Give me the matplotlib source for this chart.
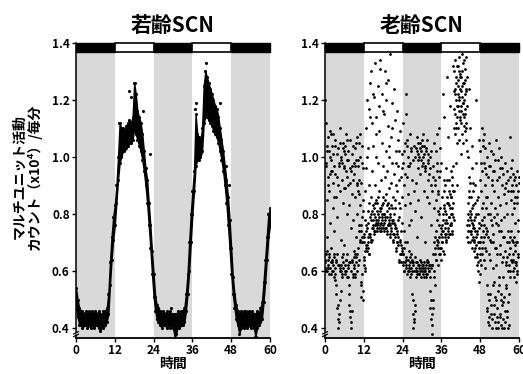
import numpy as np
import matplotlib.pyplot as plt
from matplotlib.patches import Rectangle

plt.rcParams['font.family'] = ['Noto Sans CJK JP', 'DejaVu Sans']
plt.rcParams['font.weight'] = 'bold'

# light/dark schedule (hours)
dark_spans = [(0, 12), (24, 36), (48, 60)]
light_spans = [(12, 24), (36, 48)]
hour_ticks = [0, 12, 24, 36, 48, 60]
y_ticks = [0.4, 0.6, 0.8, 1.0, 1.2, 1.4]

# young SCN: band edges sampled every 0.5 h from 0 to 60
young_lo = [0.47, 0.44, 0.41, 0.41, 0.40, 0.41, 0.41, 0.40, 0.41, 0.40,
            0.41, 0.40, 0.41, 0.41, 0.40, 0.39, 0.41, 0.40, 0.41, 0.42,
            0.45, 0.55, 0.64, 0.71, 0.76, 0.84, 0.92, 0.98, 1.00, 1.02,
            1.02, 1.03, 1.04, 1.05, 1.05, 1.06, 1.10, 1.08, 1.06, 1.04,
            1.02, 0.99, 0.95, 0.90, 0.84, 0.76, 0.68, 0.59, 0.51, 0.46,
            0.43, 0.42, 0.41, 0.40, 0.41, 0.41, 0.40, 0.41, 0.40, 0.41,
            0.40, 0.37, 0.38, 0.41, 0.40, 0.41, 0.41, 0.42, 0.46, 0.52,
            0.60, 0.70, 0.80, 0.88, 0.97, 0.99, 0.99, 1.00, 1.02, 1.12,
            1.14, 1.14, 1.13, 1.12, 1.11, 1.09, 1.08, 1.07, 1.05, 1.02,
            0.99, 0.95, 0.90, 0.84, 0.76, 0.68, 0.59, 0.52, 0.47, 0.43,
            0.41, 0.38, 0.40, 0.41, 0.40, 0.41, 0.40, 0.41, 0.40, 0.41,
            0.40, 0.37, 0.40, 0.41, 0.42, 0.43, 0.49, 0.56, 0.64, 0.72,
            0.76]
young_hi = [0.54, 0.50, 0.47, 0.46, 0.46, 0.45, 0.46, 0.45, 0.46, 0.45,
            0.46, 0.45, 0.46, 0.45, 0.46, 0.45, 0.45, 0.46, 0.46, 0.47,
            0.52, 0.63, 0.72, 0.79, 0.83, 0.90, 1.00, 1.12, 1.10, 1.10,
            1.09, 1.11, 1.12, 1.13, 1.12, 1.14, 1.26, 1.22, 1.16, 1.14,
            1.12, 1.08, 1.02, 0.96, 0.92, 0.84, 0.76, 0.67, 0.59, 0.51,
            0.48, 0.47, 0.46, 0.45, 0.46, 0.45, 0.46, 0.45, 0.46, 0.45,
            0.45, 0.45, 0.45, 0.46, 0.45, 0.46, 0.46, 0.47, 0.52, 0.59,
            0.70, 0.80, 0.88, 0.95, 1.15, 1.08, 1.07, 1.06, 1.10, 1.25,
            1.30, 1.28, 1.26, 1.24, 1.22, 1.20, 1.18, 1.17, 1.14, 1.10,
            1.06, 1.02, 0.97, 0.92, 0.86, 0.78, 0.68, 0.58, 0.52, 0.48,
            0.46, 0.45, 0.46, 0.45, 0.46, 0.46, 0.45, 0.46, 0.45, 0.46,
            0.45, 0.45, 0.46, 0.45, 0.47, 0.49, 0.56, 0.64, 0.72, 0.80,
            0.82]
young_extra_t = [13.4, 16.3, 17.0, 18.3, 20.8, 22.9, 29.4, 30.6, 36.9, 37.2,
                 40.3, 44.6, 46.5, 47.2, 55.8]
young_extra_y = [1.12, 1.23, 1.21, 1.26, 1.16, 1.01, 0.47, 0.38, 1.17, 1.19,
                 1.33, 1.19, 0.97, 0.90, 0.37]

# old SCN channel A: 12 readings per hour (every 5 min)
old_00_12 = [1.20, 0.63, 0.98, 0.61, 1.12, 0.66, 0.85, 0.60, 1.02, 0.72, 0.64, 0.93,
             0.62, 1.07, 0.59, 0.88, 0.65, 1.00, 0.61, 0.77, 1.09, 0.63, 0.95, 0.68,
             0.99, 0.60, 1.04, 0.64, 0.82, 0.62, 1.08, 0.91, 0.66, 0.97, 0.58, 0.74,
             0.61, 0.94, 0.57, 1.06, 0.63, 0.86, 0.52, 1.01, 0.66, 0.79, 0.47, 0.90,
             0.43, 1.03, 0.40, 0.62, 0.97, 0.45, 0.88, 0.60, 1.10, 0.50, 0.71, 0.99,
             0.60, 1.00, 0.65, 0.92, 0.58, 1.05, 0.63, 0.84, 0.61, 0.96, 0.69, 1.02,
             0.97, 0.62, 1.04, 0.59, 0.89, 0.64, 1.08, 0.60, 0.80, 0.99, 0.66, 0.93,
             0.62, 0.90, 0.58, 1.02, 0.55, 0.83, 0.48, 0.96, 0.63, 1.06, 0.44, 0.75,
             0.40, 0.95, 0.60, 0.87, 0.46, 1.01, 0.64, 0.78, 0.58, 0.92, 0.67, 0.98,
             0.61, 0.94, 0.66, 1.03, 0.59, 0.86, 0.63, 0.99, 0.72, 0.90, 0.60, 1.07,
             0.80, 0.62, 0.97, 0.68, 0.88, 0.76, 1.05, 0.64, 0.92, 0.71, 0.83, 1.00,
             0.56, 0.74, 0.91, 0.51, 0.79, 1.04, 0.59, 0.70, 0.85, 0.53, 0.96, 0.73]
old_12_24 = [0.62, 0.70, 0.65, 0.78, 0.61, 0.88, 0.67, 1.10, 0.74, 0.96, 0.69, 1.20,
             0.67, 0.75, 0.70, 1.03, 0.81, 0.68, 1.17, 0.73, 0.90, 0.66, 1.26, 0.79,
             0.72, 0.80, 0.70, 0.86, 1.30, 0.75, 0.95, 0.71, 1.12, 0.78, 1.04, 0.83,
             0.75, 0.82, 0.73, 1.21, 0.79, 0.90, 0.74, 1.33, 0.85, 1.00, 0.77, 1.14,
             0.76, 0.84, 0.74, 0.98, 0.80, 1.25, 0.78, 0.88, 1.09, 0.75, 1.18, 0.82,
             0.74, 0.81, 1.34, 0.77, 0.92, 0.75, 1.05, 0.83, 1.22, 0.79, 0.97, 0.86,
             0.76, 0.84, 0.74, 1.15, 0.80, 1.30, 0.78, 0.93, 0.75, 1.02, 0.87, 1.20,
             0.75, 0.83, 0.73, 0.95, 0.79, 1.11, 0.76, 1.27, 0.82, 0.89, 1.04, 0.77,
             0.73, 0.80, 1.36, 0.76, 0.91, 0.74, 1.07, 0.82, 1.19, 0.78, 0.98, 0.86,
             0.71, 0.78, 0.73, 1.24, 0.80, 0.94, 0.72, 1.13, 0.85, 0.76, 1.02, 0.90,
             0.68, 0.75, 0.70, 0.88, 1.16, 0.73, 0.97, 0.69, 1.06, 0.79, 0.84, 0.92,
             0.64, 0.71, 0.66, 0.82, 1.09, 0.69, 0.93, 0.63, 0.77, 1.01, 0.67, 0.86]
old_24_36 = [0.62, 0.98, 0.66, 1.12, 0.74, 0.60, 0.90, 0.68, 1.05, 0.63, 0.83, 1.15,
             0.65, 1.22, 0.61, 0.93, 0.70, 1.06, 0.59, 0.87, 0.64, 1.00, 0.76, 0.62,
             0.60, 0.97, 0.63, 1.08, 0.58, 0.84, 0.66, 1.02, 0.61, 0.78, 0.92, 0.64,
             0.52, 0.62, 0.45, 0.99, 0.40, 0.60, 0.88, 0.43, 1.04, 0.48, 0.65, 0.81,
             0.61, 1.03, 0.58, 0.91, 0.63, 1.07, 0.60, 0.72, 0.99, 0.62, 0.85, 1.01,
             0.59, 1.00, 0.62, 1.05, 0.60, 0.94, 0.64, 1.02, 0.58, 0.79, 0.61, 0.97,
             0.62, 1.04, 0.59, 0.98, 0.61, 1.08, 0.63, 0.88, 0.60, 1.01, 0.70, 0.95,
             0.60, 0.96, 0.58, 1.02, 0.62, 0.86, 0.59, 1.06, 0.64, 0.92, 0.61, 0.99,
             0.63, 0.94, 0.60, 0.84, 0.53, 1.00, 0.47, 0.62, 0.90, 0.43, 0.76, 0.61,
             0.38, 0.88, 0.45, 0.62, 0.97, 0.50, 0.66, 0.82, 0.60, 1.05, 0.70, 0.92,
             0.66, 0.90, 0.72, 1.02, 0.64, 0.85, 0.78, 1.08, 0.69, 0.95, 0.62, 0.81,
             0.70, 0.87, 0.66, 1.10, 0.76, 0.93, 0.68, 0.82, 1.03, 0.73, 0.98, 0.64]
old_36_48 = [0.68, 0.76, 0.72, 0.86, 0.70, 0.80, 1.22, 0.74, 0.92, 0.66, 1.14, 0.83,
             0.72, 0.81, 0.75, 0.90, 0.70, 0.78, 0.96, 0.73, 1.28, 0.84, 0.77, 1.07,
             0.74, 0.84, 0.72, 0.92, 0.79, 0.88, 0.73, 1.18, 0.82, 0.76, 0.95, 0.86,
             0.76, 0.86, 0.90, 0.80, 0.93, 0.74, 0.84, 1.32, 0.97, 0.78, 1.10, 0.88,
             1.30, 1.15, 1.24, 1.08, 1.34, 1.20, 0.98, 1.12, 1.26, 1.05, 1.18, 0.90,
             1.22, 1.32, 1.10, 1.27, 1.16, 1.35, 1.06, 1.20, 1.29, 1.13, 1.24, 1.01,
             1.18, 1.28, 1.12, 1.36, 1.21, 1.08, 1.25, 1.15, 1.33, 1.05, 1.19, 1.11,
             1.26, 1.14, 1.31, 1.09, 1.22, 1.17, 1.35, 1.06, 1.24, 1.12, 1.28, 1.02,
             0.72, 0.84, 0.78, 1.00, 0.70, 0.88, 1.24, 0.76, 0.93, 0.74, 1.10, 0.81,
             0.70, 0.80, 0.74, 0.86, 0.68, 0.96, 0.77, 1.04, 0.72, 0.83, 0.91, 0.75,
             0.67, 0.78, 0.71, 0.84, 0.65, 0.90, 0.74, 1.20, 0.69, 0.80, 0.98, 0.73,
             0.62, 0.74, 0.66, 0.80, 0.60, 0.86, 0.70, 1.06, 0.56, 0.77, 0.92, 0.64]
old_48_60 = [0.66, 1.02, 0.72, 0.88, 0.62, 1.10, 0.78, 0.95, 0.68, 0.84, 1.06, 0.74,
             0.70, 0.98, 0.64, 1.08, 0.76, 0.90, 0.61, 1.03, 0.82, 0.67, 0.94, 0.73,
             0.55, 0.86, 0.47, 1.00, 0.42, 0.72, 0.93, 0.50, 1.05, 0.66, 0.44, 0.80,
             0.64, 0.97, 0.52, 0.84, 0.45, 1.02, 0.70, 0.90, 0.40, 0.76, 0.61, 0.95,
             0.73, 1.01, 0.56, 0.88, 0.48, 0.95, 0.68, 0.42, 0.82, 1.06, 0.62, 0.77,
             0.50, 0.92, 0.44, 0.80, 0.66, 0.99, 0.53, 0.86, 0.40, 0.74, 1.03, 0.58,
             0.69, 0.96, 0.45, 0.83, 0.52, 1.00, 0.41, 0.78, 0.63, 0.90, 0.48, 0.72,
             0.43, 0.94, 0.58, 0.87, 0.40, 0.79, 0.51, 0.98, 0.67, 0.46, 0.84, 0.62,
             0.55, 0.91, 0.44, 0.80, 0.65, 0.95, 0.49, 0.74, 0.60, 0.88, 0.41, 0.70,
             0.62, 0.93, 0.68, 1.07, 0.58, 0.85, 0.74, 0.96, 0.64, 0.80, 0.90, 0.71,
             0.60, 0.88, 0.66, 0.94, 0.72, 0.82, 0.58, 0.92, 0.77, 0.63, 0.86, 0.69,
             0.62, 0.90, 0.56, 0.84, 0.70, 0.95, 0.60, 0.78, 0.65, 0.88, 0.74, 0.93]

# old SCN channel B: 6 readings per hour (every 10 min), 0-60 h
old_b = [0.64, 0.97, 0.60, 1.04, 0.67, 0.90, 0.61, 1.02, 0.66, 0.94, 0.59, 1.08,
         0.63, 0.95, 0.60, 1.01, 0.65, 0.86, 0.59, 1.04, 0.64, 0.55, 0.93, 0.62,
         0.48, 0.98, 0.42, 0.61, 1.05, 0.53, 0.62, 0.98, 0.59, 1.03, 0.66, 0.89,
         0.60, 1.01, 0.64, 0.95, 0.58, 1.06, 0.61, 0.99, 0.52, 0.63, 0.46, 0.91,
         0.42, 0.63, 0.97, 0.59, 1.04, 0.65, 0.62, 0.97, 0.58, 1.05, 0.65, 0.91,
         0.66, 0.99, 0.74, 0.87, 0.70, 1.08, 0.76, 0.55, 0.72, 0.98, 0.50, 0.81,
         0.64, 0.72, 0.60, 0.76, 0.68, 1.00, 0.69, 0.77, 0.72, 0.66, 0.84, 1.14,
         0.73, 0.78, 0.71, 0.81, 0.76, 1.22, 0.74, 0.80, 0.76, 0.84, 0.78, 1.08,
         0.75, 0.81, 0.77, 0.86, 0.79, 1.31, 0.76, 0.82, 0.74, 0.80, 0.78, 1.16,
         0.75, 0.80, 0.77, 0.85, 0.79, 1.26, 0.74, 0.81, 0.76, 0.84, 0.78, 1.00,
         0.72, 0.79, 0.75, 0.83, 0.77, 1.10, 0.70, 0.77, 0.73, 0.82, 0.75, 0.98,
         0.67, 0.74, 0.70, 0.78, 0.72, 1.02, 0.63, 0.70, 0.66, 0.74, 0.68, 0.96,
         0.63, 0.66, 1.02, 0.60, 0.70, 0.94, 0.62, 0.64, 1.04, 0.60, 0.97, 0.67,
         0.61, 0.65, 0.98, 0.59, 1.03, 0.63, 0.60, 0.50, 0.63, 0.42, 1.00, 0.46,
         0.60, 0.63, 1.02, 0.59, 1.05, 0.96, 0.61, 0.59, 1.03, 0.63, 0.99, 1.06,
         0.60, 0.62, 1.00, 0.58, 1.04, 0.97, 0.61, 0.59, 1.03, 0.63, 0.98, 1.01,
         0.60, 0.62, 0.96, 0.58, 1.02, 0.50, 0.41, 0.62, 0.47, 0.93, 0.58, 0.55,
         0.68, 0.74, 0.64, 0.98, 0.71, 0.88, 0.68, 0.72, 0.80, 0.66, 0.95, 0.75,
         0.70, 0.74, 0.78, 0.67, 0.82, 0.88, 0.73, 0.77, 0.80, 0.71, 0.86, 0.92,
         0.75, 0.79, 0.83, 0.73, 0.87, 0.80, 0.77, 0.82, 0.73, 0.88, 0.79, 1.23,
         1.17, 1.22, 1.28, 1.10, 1.32, 1.14, 1.18, 1.25, 1.30, 1.21, 1.14, 1.28,
         1.16, 1.23, 1.30, 1.19, 1.26, 1.34, 1.20, 1.15, 1.27, 1.10, 1.23, 1.18,
         0.76, 0.80, 0.74, 0.86, 0.79, 0.91, 0.73, 0.78, 0.71, 0.82, 0.76, 0.88,
         0.70, 0.75, 0.68, 0.79, 0.72, 0.85, 0.65, 0.70, 0.63, 0.75, 0.68, 0.59,
         0.70, 0.76, 0.98, 0.66, 0.82, 1.04, 0.72, 0.79, 0.68, 0.96, 0.75, 0.86,
         0.74, 0.46, 0.80, 0.52, 0.97, 0.41, 0.71, 0.48, 0.78, 0.43, 0.92, 0.55,
         0.70, 0.45, 0.79, 0.51, 0.99, 0.40, 0.68, 0.47, 0.76, 0.42, 0.93, 0.55,
         0.66, 0.44, 0.74, 0.50, 0.96, 0.40, 0.65, 0.49, 0.72, 0.42, 0.89, 0.54,
         0.63, 0.46, 0.70, 0.40, 0.92, 0.52, 0.66, 0.72, 0.60, 0.88, 0.63, 0.99,
         0.64, 0.70, 0.61, 0.84, 0.67, 0.93, 0.63, 0.70, 0.59, 0.86, 0.66, 0.91]

young_t = np.arange(len(young_lo)) * 0.5
old_y = np.array(old_00_12 + old_12_24 + old_24_36 + old_36_48 + old_48_60)
old_t = np.arange(len(old_y)) / 12.0
old_b_t = np.arange(len(old_b)) / 6.0 + 1 / 24

Y0, BAR0, Y1 = 0.365, 1.370, 1.4
GRAY = '#d9d9d9'

fig = plt.figure(figsize=(5.23, 3.74), dpi=100)
ax1 = fig.add_axes([0.1453, 0.0963, 0.3709, 0.7888])
ax2 = fig.add_axes([0.6214, 0.0963, 0.3709, 0.7888])


def frame(ax, title):
    ax.set_xlim(0, 60)
    ax.set_ylim(Y0, Y1)
    for a, b in dark_spans:
        ax.add_patch(Rectangle((a, Y0), b - a, BAR0 - Y0, facecolor=GRAY, lw=0, zorder=0))
        ax.add_patch(Rectangle((a, BAR0), b - a, Y1 - BAR0, facecolor='black',
                               edgecolor='black', lw=1.0, zorder=4, clip_on=False))
    for a, b in light_spans:
        ax.add_patch(Rectangle((a, BAR0), b - a, Y1 - BAR0, facecolor='white',
                               edgecolor='black', lw=1.2, zorder=4, clip_on=False))
    for s in ['top', 'right']:
        ax.spines[s].set_visible(False)
    ax.spines['bottom'].set_linewidth(1.3)
    ax.spines['left'].set_linewidth(1.1)
    ax.spines['left'].set_bounds(0.385, Y1)
    # axis break on the left spine
    tr = ax.get_yaxis_transform()
    ax.plot([0, 0], [Y0, 0.374], color='black', lw=1.1, transform=tr, clip_on=False)
    ax.plot([-0.012, 0.012], [0.370, 0.378], color='black', lw=0.9, transform=tr, clip_on=False)
    ax.plot([-0.012, 0.012], [0.379, 0.387], color='black', lw=0.9, transform=tr, clip_on=False)
    ax.set_xticks(hour_ticks)
    ax.set_yticks(y_ticks)
    ax.set_yticklabels([f'{v:.1f}' for v in y_ticks])
    ax.tick_params(axis='both', direction='out', length=3, width=1, labelsize=8.5, pad=1.5)
    for lab in ax.get_xticklabels() + ax.get_yticklabels():
        lab.set_fontweight('bold')
    ax.set_title(title, fontsize=15, fontweight='bold', pad=8)
    ax.set_xlabel('時間', fontsize=10, fontweight='bold', labelpad=0)


frame(ax1, '若齢SCN')
frame(ax2, '老齢SCN')

ax1.fill_between(young_t, young_lo, young_hi, color='black', lw=1.0, zorder=2)
ax1.scatter(young_t, young_lo, s=5, c='black', lw=0, zorder=2)
ax1.scatter(young_t, young_hi, s=5, c='black', lw=0, zorder=2)
ax1.scatter(young_extra_t, young_extra_y, s=5, c='black', lw=0, zorder=2)

ax2.scatter(old_t, old_y, s=4, c='black', lw=0, zorder=2)
ax2.scatter(old_b_t, old_b, s=4, c='black', lw=0, zorder=2)

fig.text(0.052, 0.527, 'マルチユニット活動\nカウント（x10⁴）/毎分', rotation=90,
         ha='center', va='center', fontsize=10, fontweight='bold', linespacing=1.05)

fig.savefig('out.png', dpi=100)
